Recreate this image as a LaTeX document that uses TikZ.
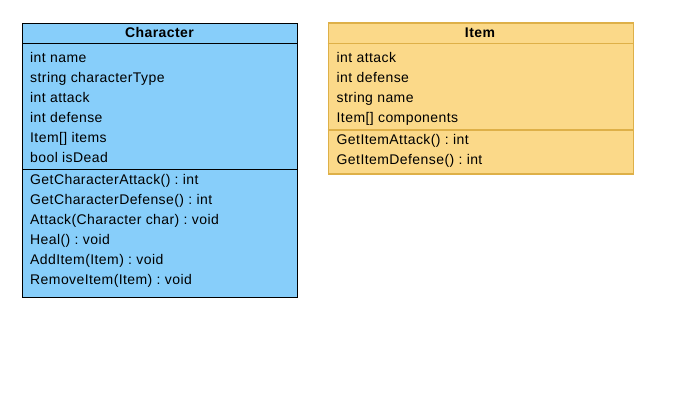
\documentclass[tikz,border=0pt]{standalone}
\usepackage{fontspec}
\setmainfont[LetterSpace=3]{Liberation Sans}
\frenchspacing
\begin{document}
\begin{tikzpicture}[x=1pt,y=-1pt,
  classbox/.style={rectangle, inner sep=0pt, anchor=north west},
  charstyle/.style={classbox, fill=charfill, draw=black, line width=1pt},
  itemstyle/.style={classbox, fill=itemfill, draw=itemline, line width=1.2pt},
  member/.style={inner sep=0pt, anchor=base west, font=\fontsize{14pt}{16pt}\selectfont, text=black},
  title/.style={inner sep=0pt, anchor=base, font=\fontsize{14pt}{16pt}\selectfont\bfseries, text=black}]
\definecolor{charfill}{RGB}{135,206,250}
\definecolor{itemfill}{RGB}{251,217,137}
\definecolor{itemline}{RGB}{222,176,72}
\useasboundingbox (0,0) rectangle (673,414);

% Character class
\node[charstyle, minimum width=275pt, minimum height=274pt] (char) at (22,23) {};
\draw[black, line width=1pt] ([yshift=-21pt]char.north west) -- ([yshift=-21pt]char.north east);
\draw[black, line width=1pt] ([yshift=-147pt]char.north west) -- ([yshift=-147pt]char.north east);
\node[title] (charTitle) at (159.5,37.5) {Character};
\foreach \txt [count=\i from 0] in {int name, string characterType, int attack, int defense, Item[] items, bool isDead}
  \node[member] (charAttr\i) at (30,62.3+20*\i) {\txt};
\foreach \txt [count=\i from 0] in {GetCharacterAttack() : int, GetCharacterDefense() : int, Attack(Character char) : void, Heal() : void, AddItem(Item) : void, RemoveItem(Item) : void}
  \node[member] (charOp\i) at (30,185+20*\i) {\txt};

% Item class
\node[itemstyle, minimum width=305pt, minimum height=151pt] (item) at (327.5,22.5) {};
\draw[itemline, line width=1.2pt] ([yshift=-21pt]item.north west) -- ([yshift=-21pt]item.north east);
\draw[itemline, line width=1.2pt] ([yshift=-107.5pt]item.north west) -- ([yshift=-107.5pt]item.north east);
\node[title] (itemTitle) at (480,37.6) {Item};
\foreach \txt [count=\i from 0] in {int attack, int defense, string name, Item[] components}
  \node[member] (itemAttr\i) at (336.5,62.5+20*\i) {\txt};
\foreach \txt [count=\i from 0] in {GetItemAttack() : int, GetItemDefense() : int}
  \node[member] (itemOp\i) at (336.5,145+20*\i) {\txt};
\end{tikzpicture}
\end{document}
